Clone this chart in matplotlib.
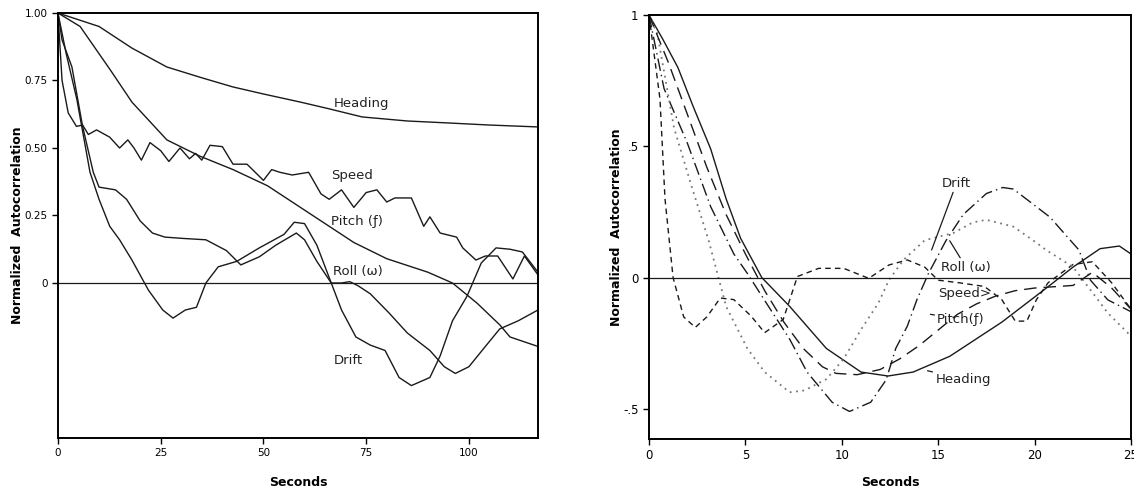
import numpy as np
import matplotlib.pyplot as plt

plt.rcParams['font.family'] = ['DejaVu Sans']

# ---- left panel: 0-116 s ----
head_s = [0, 5, 10, 18, 26.5, 35, 42.6, 50, 59, 66, 74, 85, 94.6, 105, 116.8]
head_v = [1.0, 0.975, 0.95, 0.87, 0.80, 0.76, 0.726, 0.70, 0.67, 0.645, 0.615, 0.60, 0.593, 0.585, 0.578]

speed_s = [0, 1, 2.5, 4.5, 6, 7.4, 9.4, 12.6, 15, 17, 18.5, 20.3, 22.4, 25, 27, 29.7, 32, 33.5,
           35, 37, 40, 42.6, 46, 50, 52, 54, 57, 61, 64, 66, 69, 72, 75, 77.6, 80, 82, 86, 89,
           90.5, 93, 97, 98.5, 101.7, 104, 107, 110.7, 113.5, 116.8]
speed_v = [1.0, 0.75, 0.63, 0.58, 0.585, 0.55, 0.567, 0.54, 0.50, 0.53, 0.50, 0.455, 0.52, 0.49,
           0.45, 0.50, 0.46, 0.48, 0.455, 0.51, 0.505, 0.44, 0.44, 0.38, 0.42, 0.41, 0.40, 0.41,
           0.33, 0.31, 0.345, 0.28, 0.335, 0.345, 0.30, 0.315, 0.315, 0.21, 0.245, 0.185, 0.17,
           0.13, 0.085, 0.10, 0.10, 0.015, 0.10, 0.03]

pitch_s = [0, 5.4, 12.7, 18, 26.5, 34.5, 42.6, 51, 59, 66, 72, 80, 90, 96, 102, 107.5, 110, 116.8]
pitch_v = [1.0, 0.95, 0.79, 0.67, 0.53, 0.47, 0.42, 0.36, 0.28, 0.21, 0.15, 0.09, 0.04, 0.0,
           -0.075, -0.155, -0.2, -0.235]

roll_s = [0, 1, 3.4, 6, 8.6, 10, 14, 16.7, 20, 23, 26, 30.5, 36, 41, 44.5, 49, 53, 58, 60, 63,
          66.5, 69, 71, 73, 76, 80.5, 85, 90.5, 94, 96.7, 100, 104, 107.5, 112, 116.8]
roll_v = [1.0, 0.9, 0.8, 0.58, 0.41, 0.355, 0.345, 0.31, 0.23, 0.185, 0.17, 0.165, 0.16, 0.12,
          0.067, 0.097, 0.14, 0.185, 0.16, 0.08, 0.0, 0.0, 0.005, -0.01, -0.04, -0.11, -0.185,
          -0.25, -0.31, -0.335, -0.31, -0.235, -0.17, -0.14, -0.10]

drift_s = [0, 2, 4.6, 7.8, 10, 12.6, 15, 18, 22, 25.5, 28, 31, 33.7, 36, 39, 43.5, 49, 55, 57.5,
           60, 63, 66.5, 69, 72.5, 76, 79.6, 83, 86, 90.5, 93, 96, 99.5, 103, 106.6, 110, 113, 116.8]
drift_v = [1.0, 0.85, 0.68, 0.41, 0.31, 0.21, 0.16, 0.085, -0.026, -0.1, -0.13, -0.1, -0.09, 0.0,
           0.06, 0.08, 0.13, 0.18, 0.225, 0.22, 0.14, 0.0, -0.1, -0.2, -0.23, -0.25, -0.35, -0.38,
           -0.35, -0.27, -0.14, -0.05, 0.074, 0.13, 0.125, 0.115, 0.04]

# ---- right panel: 0-25 s ----
r_head_s = [0, 0.7, 1.5, 2.3, 3.2, 4.0, 4.75, 5.85, 7.3, 9.2, 11, 12.4, 13.7, 15.6, 18.3, 20.7,
            22, 23.4, 24.4, 25]
r_head_v = [1.0, 0.91, 0.80, 0.65, 0.49, 0.30, 0.15, 0.0, -0.11, -0.27, -0.36, -0.375, -0.36,
            -0.30, -0.17, -0.035, 0.04, 0.11, 0.12, 0.09]

r_drift_s = [0, 0.78, 2.0, 3.2, 4.4, 5.1, 6.2, 7.3, 8.2, 9.5, 10.4, 11.5, 12.3, 12.8, 13.4, 13.9,
             14.5, 15.4, 16.3, 17.5, 18.35, 18.9, 20.8, 22.3, 22.9, 23.8, 25]
r_drift_v = [1.0, 0.72, 0.51, 0.27, 0.09, 0.016, -0.11, -0.235, -0.36, -0.475, -0.51, -0.475,
             -0.39, -0.27, -0.185, -0.084, 0.016, 0.14, 0.24, 0.32, 0.343, 0.337, 0.23, 0.105,
             -0.01, -0.085, -0.13]

r_roll_s = [0, 0.57, 0.83, 1.25, 1.8, 2.4, 3.0, 3.7, 4.4, 5.3, 6.0, 6.96, 7.7, 8.8, 10.1, 11.4,
            12.45, 13.4, 14.3, 15, 16.1, 17.4, 18.3, 19.0, 19.6, 20.1, 20.7, 22, 23, 24, 25]
r_roll_v = [1.0, 0.68, 0.30, 0.0, -0.15, -0.19, -0.15, -0.078, -0.084, -0.147, -0.21, -0.16,
            0.004, 0.035, 0.035, -0.003, 0.048, 0.067, 0.04, -0.01, -0.02, -0.034, -0.084,
            -0.166, -0.166, -0.084, -0.02, 0.05, 0.06, -0.02, -0.12]

r_pitch_s = [0, 0.43, 1.3, 2.2, 3.1, 4.0, 5.1, 6.0, 7.3, 8.06, 9.2, 10.1, 11, 11.9, 12.45, 13.2,
             14.3, 15.8, 16.8, 17.5, 18.9, 19.9, 20.6, 22, 22.9, 23.8, 25]
r_pitch_v = [1.0, 0.93, 0.57, 0.35, 0.14, -0.11, -0.27, -0.36, -0.437, -0.43, -0.387, -0.31,
             -0.198, -0.097, -0.009, 0.067, 0.142, 0.17, 0.21, 0.22, 0.194, 0.143, 0.105, 0.04,
             -0.047, -0.135, -0.223]

r_speed_s = [0, 1, 2, 3, 4, 5, 6, 7, 8, 9, 9.7, 10.8, 12, 13, 14, 15, 16, 17, 18, 19, 20, 21,
             22, 23, 24, 25]
r_speed_v = [1.0, 0.82, 0.62, 0.42, 0.24, 0.09, -0.05, -0.17, -0.27, -0.34, -0.365, -0.37,
             -0.35, -0.31, -0.26, -0.2, -0.14, -0.1, -0.07, -0.05, -0.04, -0.035, -0.03, 0.02,
             -0.04, -0.12]

fig = plt.figure(figsize=(11.34, 4.92), dpi=100)
ax1 = fig.add_axes([0.0511, 0.1098, 0.4233, 0.8638])
ax2 = fig.add_axes([0.5723, 0.1077, 0.4250, 0.8618])

lw = 1.0
ink = '#1a1a1a'
ax1.plot(head_s, head_v, color=ink, lw=lw)
ax1.plot(speed_s, speed_v, color=ink, lw=lw)
ax1.plot(pitch_s, pitch_v, color=ink, lw=lw)
ax1.plot(roll_s, roll_v, color=ink, lw=lw)
ax1.plot(drift_s, drift_v, color=ink, lw=lw)
ax1.axhline(0, color=ink, lw=0.9)
ax1.set_xlim(0, 116.8)
ax1.set_ylim(-0.574, 1.0)
ax1.set_xticks([0, 25, 50, 75, 100])
ax1.set_yticks([0, 0.25, 0.5, 0.75, 1.0])
ax1.set_yticklabels(['0', '0.25', '0.50', '0.75', '1.00'])

lab = dict(fontsize=9.5, color='#222222')
ax1.text(67, 0.65, 'Heading', **lab)
ax1.text(66.5, 0.385, 'Speed', **lab)
ax1.text(66.5, 0.215, 'Pitch (ƒ)', **lab)
ax1.text(67, 0.03, 'Roll (ω)', **lab)
ax1.text(67, -0.3, 'Drift', **lab)

ax2.plot(r_head_s, r_head_v, color=ink, lw=lw)
ax2.plot(r_drift_s, r_drift_v, color=ink, lw=lw, dashes=(9, 3, 1, 3))
ax2.plot(r_roll_s, r_roll_v, color=ink, lw=lw, dashes=(4, 3))
ax2.plot(r_pitch_s, r_pitch_v, color='#777777', lw=1.3, dashes=(1, 2.5))
ax2.plot(r_speed_s, r_speed_v, color=ink, lw=lw, dashes=(9, 5))
ax2.axhline(0, color=ink, lw=0.9)
ax2.set_xlim(0, 25)
ax2.set_ylim(-0.615, 1.0)
ax2.set_xticks([0, 5, 10, 15, 20, 25])
ax2.set_yticks([-0.5, 0, 0.5, 1.0])
ax2.set_yticklabels(['-.5', '0', '.5', '1'])

lead = dict(arrowstyle='-', color=ink, lw=0.9, shrinkA=0, shrinkB=0)
ax2.annotate('Drift', xy=(14.66, 0.105), xytext=(15.2, 0.36), va='center', ha='left',
             arrowprops=lead, **lab)
ax2.annotate('Roll (ω)', xy=(15.6, 0.14), xytext=(15.15, 0.04), va='center', ha='left',
             arrowprops=lead, **lab)
ax2.text(15.0, -0.06, 'Speed>', va='center', ha='left', **lab)
ax2.annotate('Pitch(ƒ)', xy=(14.6, -0.14), xytext=(14.95, -0.16), va='center', ha='left',
             arrowprops=lead, **lab)
ax2.annotate('Heading', xy=(14.45, -0.355), xytext=(14.85, -0.387), va='center', ha='left',
             arrowprops=lead, **lab)

for ax in (ax1, ax2):
    for sp in ax.spines.values():
        sp.set_linewidth(1.4)
    ax.tick_params(direction='out', length=4, width=1)
    ax.set_ylabel('Normalized  Autocorrelation', fontsize=9, fontweight='bold')
ax1.set_xlabel('Seconds', fontsize=9, fontweight='bold', labelpad=12.5)
ax2.set_xlabel('Seconds', fontsize=9, fontweight='bold', labelpad=9.5)
ax1.tick_params(labelsize=7.5)
ax2.tick_params(labelsize=8.5)

ax1.yaxis.set_label_coords(-0.071, 0.5)
ax2.yaxis.set_label_coords(-0.054, 0.5)

plt.savefig('out.png', dpi=100)
